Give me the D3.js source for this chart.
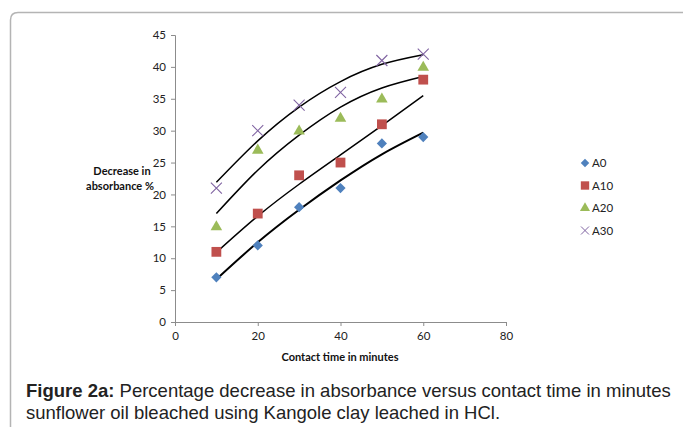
<!DOCTYPE html>
<html><head><meta charset="utf-8">
<script src="https://cdn.jsdelivr.net/npm/d3@7"></script>
<style>
body{margin:0;background:#fff;}
svg{display:block;}
</style></head>
<body>
<svg id="c" width="683" height="427"></svg>
<script>
const contactTime = [10, 20, 30, 40, 50, 60];
const seriesNames = ["A0", "A10", "A20", "A30"];
const A0  = [7, 12, 18, 21, 28, 29];
const A10 = [11, 17, 23, 25, 31, 38];
const A20 = [15, 27, 30, 32, 35, 40];
const A30 = [21, 30, 34, 36, 41, 42];
// trend curves (values at contactTime)
const trendA0  = [6.7, 12.5, 17.6, 22.2, 26.3, 29.7];
const trendA10 = [10.9, 16.6, 21.6, 26.2, 30.8, 35.5];
const trendA20 = [17.0, 23.8, 29.3, 33.7, 36.7, 38.5];
const trendA30 = [21.9, 28.4, 33.7, 37.7, 40.4, 41.9];
const xTicks = [0, 20, 40, 60, 80];
const yTicks = [0, 5, 10, 15, 20, 25, 30, 35, 40, 45];

const svg = d3.select("#c");
// frame
svg.append("path")
  .attr("d", "M10.5,440 L10.5,20 Q10.5,12.5 18,12.5 L700,12.5")
  .attr("fill", "none").attr("stroke", "#b4b4b4").attr("stroke-width", 1.5);

const x = d3.scaleLinear().domain([0, 80]).range([175, 506]);
const y = d3.scaleLinear().domain([0, 45]).range([322, 35]);
const font = "Lato, 'Open Sans', sans-serif";

const yAx = svg.append("g").attr("transform", "translate(175,0)")
  .call(d3.axisLeft(y).tickValues(yTicks).tickSize(4).tickPadding(5));
const xAx = svg.append("g").attr("transform", "translate(0,322)")
  .call(d3.axisBottom(x).tickValues(xTicks).tickSize(4).tickPadding(6));
[yAx, xAx].forEach(g => {
  g.select(".domain").attr("stroke", "#8c8c8c");
  g.selectAll(".tick line").attr("stroke", "#8c8c8c");
  g.selectAll(".tick text").attr("font-family", font).attr("font-size", 11.5).attr("fill", "#222");
});

svg.append("text").attr("x", 340).attr("y", 361).attr("text-anchor", "middle")
  .attr("font-family", font).attr("font-size", 11).attr("font-weight", "bold").attr("fill", "#111")
  .text("Contact time in minutes");
const yt = svg.append("text").attr("text-anchor", "middle")
  .attr("font-family", font).attr("font-size", 11).attr("font-weight", "bold").attr("fill", "#111");
yt.append("tspan").attr("x", 122).attr("y", 175).text("Decrease in");
yt.append("tspan").attr("x", 120).attr("y", 190).text("absorbance %");

const colors = ["#4F81BD", "#C0504D", "#9BBB59", "#8064A2"];
const values = [A0, A10, A20, A30];
const trends = [trendA0, trendA10, trendA20, trendA30];
const trendW = [2, 1.5, 1.5, 1.5];

const line = d3.line().x((d, i) => x(contactTime[i])).y(d => y(d)).curve(d3.curveNatural);
trends.forEach((t, k) => {
  svg.append("path").attr("d", line(t)).attr("fill", "none")
    .attr("stroke", "#000").attr("stroke-width", trendW[k]);
});

function marker(g, k) {
  if (k === 0) g.append("path").attr("d", d3.symbol(d3.symbolSquare, 52)()).attr("transform", "rotate(45)").attr("fill", colors[0]);
  else if (k === 1) g.append("path").attr("d", d3.symbol(d3.symbolSquare, 96)()).attr("fill", colors[1]);
  else if (k === 2) g.append("path").attr("d", d3.symbol(d3.symbolTriangle, 58)()).attr("transform", "translate(0,0.5)").attr("fill", colors[2]);
  else g.append("path").attr("d", "M-5.5,-5.5L5.5,5.5M-5.5,5.5L5.5,-5.5").attr("stroke", colors[3]).attr("stroke-width", 1.1).attr("fill", "none");
}

values.forEach((v, k) => {
  v.forEach((val, i) => {
    const g = svg.append("g").attr("transform", `translate(${x(contactTime[i])},${y(val)})`);
    marker(g, k);
  });
});

// legend
seriesNames.forEach((n, k) => {
  const ly = 163 + k * 22.5;
  const g = svg.append("g").attr("transform", `translate(585,${ly})`);
  if (k === 0) g.append("path").attr("d", d3.symbol(d3.symbolSquare, 36)()).attr("transform", "rotate(45)").attr("fill", colors[0]);
  else if (k === 1) g.append("path").attr("d", d3.symbol(d3.symbolSquare, 70)()).attr("fill", colors[1]);
  else if (k === 2) g.append("path").attr("d", d3.symbol(d3.symbolTriangle, 44)()).attr("fill", colors[2]);
  else g.append("path").attr("d", "M-4,-4L4,4M-4,4L4,-4").attr("stroke", colors[3]).attr("stroke-width", 1).attr("fill", "none");
  svg.append("text").attr("x", 592).attr("y", ly + 4).attr("font-family", font).attr("font-size", 11.5).attr("fill", "#222").text(n);
});

// caption
const cap = svg.append("text").attr("font-family", "'Liberation Sans', Arial, sans-serif").attr("font-size", 18.5).attr("fill", "#222");
const l1 = cap.append("tspan").attr("x", 26).attr("y", 397);
l1.append("tspan").attr("font-weight", "bold").text("Figure 2a:");
l1.append("tspan").text(" Percentage decrease in absorbance versus contact time in minutes");
cap.append("tspan").attr("x", 26).attr("y", 419).text("sunflower oil bleached using Kangole clay leached in HCl.");
</script>
</body></html>
